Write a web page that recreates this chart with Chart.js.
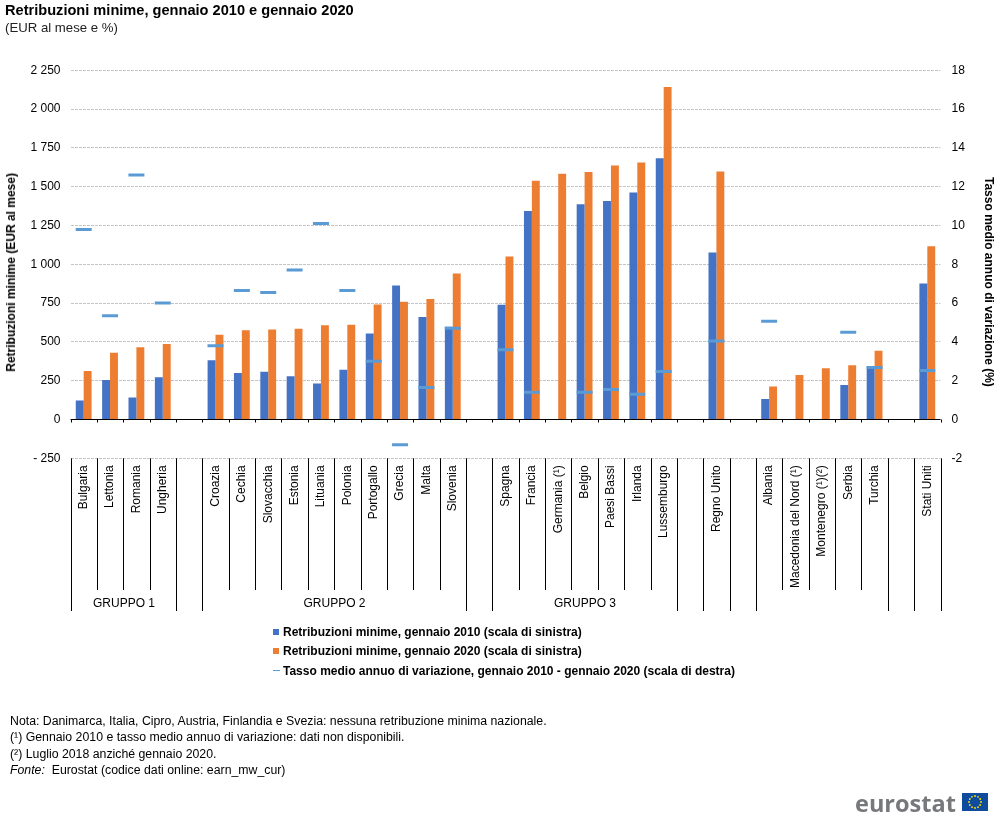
<!DOCTYPE html>
<html lang="it">
<head>
<meta charset="utf-8">
<title>Retribuzioni minime</title>
<script src="https://cdn.jsdelivr.net/npm/chart.js@4"></script>
<style>
  html, body { margin: 0; padding: 0; background: #fff; }
  body { width: 1005px; height: 829px; position: relative; overflow: hidden; font-family: "Liberation Sans", Arial, sans-serif; color: #000; }
  canvas { position: absolute; left: 0; top: 0; }
  .txt { position: absolute; white-space: nowrap; }
  #title { left: 5px; top: 2px; font-size: 14.6px; font-weight: bold; line-height: 17px; }
  #subtitle { left: 5px; top: 20px; font-size: 13.2px; line-height: 16px; color: #222; }
  .axisTitle { font-size: 12px; font-weight: bold; line-height: 14px; writing-mode: vertical-rl; }
  #leftTitle { left: 4px; top: 173px; transform: rotate(180deg); }
  #rightTitle { left: 982px; top: 177px; }
  .legendRow { left: 273px; font-size: 12px; font-weight: bold; line-height: 14px; }
  .legendRow i { position: absolute; left: 0; }
  .legendRow span { margin-left: 10px; }
  .note { left: 10px; font-size: 12.3px; line-height: 16px; }
  #logoText { left: 855px; top: 786px; font-family: "Open Sans", sans-serif; font-weight: 700; font-size: 23.5px; line-height: 34px; color: #76787b; }
  #flag { position: absolute; left: 962px; top: 793px; }
</style>
</head>
<body>
<canvas id="wageChart" width="1005" height="829"></canvas>
<div class="txt" id="title">Retribuzioni minime, gennaio 2010 e gennaio 2020</div>
<div class="txt" id="subtitle">(EUR al mese e %)</div>
<div class="txt axisTitle" id="leftTitle">Retribuzioni minime (EUR al mese)</div>
<div class="txt axisTitle" id="rightTitle">Tasso medio annuo di variazione (%)</div>
<div id="legend"></div>
<div class="txt note" style="top:713px">Nota: Danimarca, Italia, Cipro, Austria, Finlandia e Svezia: nessuna retribuzione minima nazionale.</div>
<div class="txt note" style="top:729px">(¹) Gennaio 2010 e tasso medio annuo di variazione: dati non disponibili.</div>
<div class="txt note" style="top:746px">(²) Luglio 2018 anziché gennaio 2020.</div>
<div class="txt note" style="top:762px"><em>Fonte:</em>&nbsp; Eurostat (codice dati online: earn_mw_cur)</div>
<div class="txt" id="logoText">eurostat</div>
<svg id="flag" width="26" height="18" viewBox="0 0 26 18">
  <rect width="26" height="18" fill="#0f4c9e"/>
  <g id="stars" fill="#ffe600"></g>
</svg>

<script>
const categories = ['Bulgaria', 'Lettonia', 'Romania', 'Ungheria', '',
  'Croazia', 'Cechia', 'Slovacchia', 'Estonia', 'Lituania', 'Polonia', 'Portogallo', 'Grecia', 'Malta', 'Slovenia', '',
  'Spagna', 'Francia', 'Germania (¹)', 'Belgio', 'Paesi Bassi', 'Irlanda', 'Lussemburgo', '',
  'Regno Unito', '',
  'Albania', 'Macedonia del Nord (¹)', 'Montenegro (¹)(²)', 'Serbia', 'Turchia', '',
  'Stati Uniti'];

const wages2010 = [123, 254, 142, 272, null,
  381, 299, 308, 278, 232, 321, 554, 863, 660, 597, null,
  739, 1344, null, 1387, 1408, 1462, 1683, null,
  1076, null,
  132, null, null, 223, 342, null,
  877];

const wages2020 = [312, 430, 466, 487, null,
  546, 575, 580, 584, 607, 611, 741, 758, 777, 941, null,
  1050, 1539, 1584, 1594, 1636, 1656, 2142, null,
  1598, null,
  213, 286, 331, 350, 443, null,
  1117];

const rateChange = [9.8, 5.35, 12.6, 6.0, null,
  3.8, 6.65, 6.55, 7.7, 10.1, 6.65, 3.0, -1.3, 1.65, 4.7, null,
  3.6, 1.4, null, 1.4, 1.55, 1.3, 2.47, null,
  4.05, null,
  5.07, null, null, 4.5, 2.68, null,
  2.52];

const leftTickLabels = ['- 250', '0', '250', '500', '750', '1 000', '1 250', '1 500', '1 750', '2 000', '2 250'];
const rightTickLabels = ['-2', '0', '2', '4', '6', '8', '10', '12', '14', '16', '18'];

const seriesNames = ['Retribuzioni minime, gennaio 2010 (scala di sinistra)',
  'Retribuzioni minime, gennaio 2020 (scala di sinistra)',
  'Tasso medio annuo di variazione, gennaio 2010 - gennaio 2020 (scala di destra)'];

const groups = [
  { name: 'GRUPPO 1', from: 0, to: 3 },
  { name: 'GRUPPO 2', from: 5, to: 14 },
  { name: 'GRUPPO 3', from: 16, to: 22 }
];
// category boundaries whose separator runs down past the group labels
const longSeparators = [0, 4, 5, 15, 16, 23, 24, 25, 26, 31, 32, 33];

const font = '"Liberation Sans", Arial, sans-serif';

// zero line, tick marks and the two-level category separators
const axisFurniture = {
  id: 'axisFurniture',
  afterDatasetsDraw(chart) {
    const { ctx, chartArea, scales } = chart;
    const zero = Math.floor(scales.y.getPixelForValue(0)) + 0.5;
    const step = scales.x.width / categories.length;
    const edge = (i) => Math.round(scales.x.left + i * step) + 0.5;

    ctx.save();
    ctx.strokeStyle = '#000';
    ctx.lineWidth = 1;
    ctx.beginPath();
    ctx.moveTo(chartArea.left, zero);
    ctx.lineTo(chartArea.right, zero);
    for (let i = 0; i <= categories.length; i++) {
      ctx.moveTo(edge(i), zero);
      ctx.lineTo(edge(i), zero + 3);
      ctx.moveTo(edge(i), chartArea.bottom);
      ctx.lineTo(edge(i), longSeparators.includes(i) ? 611 : 590);
    }
    ctx.stroke();

    ctx.fillStyle = '#000';
    ctx.font = '12px ' + font;
    ctx.textAlign = 'center';
    ctx.textBaseline = 'middle';
    groups.forEach((g) => {
      ctx.fillText(g.name, (edge(g.from) + edge(g.to + 1)) / 2, 604);
    });
    ctx.restore();
  }
};

const ctx = document.getElementById('wageChart').getContext('2d');

new Chart(ctx, {
  data: {
    labels: categories,
    datasets: [
      { type: 'line', label: seriesNames[2], data: rateChange, yAxisID: 'y1', order: 0,
        showLine: false, spanGaps: false, pointStyle: 'line', pointRadius: 8,
        pointBorderWidth: 3, pointBorderColor: '#5b9bd5', borderColor: '#5b9bd5', backgroundColor: '#5b9bd5' },
      { type: 'bar', label: seriesNames[0], data: wages2010, yAxisID: 'y', order: 1, backgroundColor: '#4472c4' },
      { type: 'bar', label: seriesNames[1], data: wages2020, yAxisID: 'y', order: 1, backgroundColor: '#ed7d31' }
    ]
  },
  options: {
    responsive: false,
    animation: false,
    events: [],
    datasets: { bar: { categoryPercentage: 0.6, barPercentage: 1 } },
    layout: { padding: { top: 70.3, left: 0, right: 0, bottom: 0 } },
    plugins: { legend: { display: false }, tooltip: { enabled: false } },
    scales: {
      x: {
        type: 'category',
        position: 'bottom',
        offset: true,
        grid: { display: false },
        border: { display: false },
        ticks: { autoSkip: false, minRotation: 90, maxRotation: 90, padding: -1, color: '#000', font: { family: font, size: 12 } },
        afterFit: (scale) => { scale.height = 370.7; }
      },
      y: {
        position: 'left',
        min: -250,
        max: 2250,
        grid: { color: '#c4c4c4', drawTicks: false, lineWidth: 1 },
        border: { display: false, dash: [3, 1] },
        ticks: { stepSize: 250, padding: 10, color: '#000', font: { family: font, size: 12 },
          callback: (value, i) => leftTickLabels[i] },
        afterFit: (scale) => { scale.width = 70.5; }
      },
      y1: {
        position: 'right',
        min: -2,
        max: 18,
        grid: { drawOnChartArea: false, drawTicks: false },
        border: { display: false },
        ticks: { stepSize: 2, padding: 11, color: '#000', font: { family: font, size: 12 },
          callback: (value, i) => rightTickLabels[i] },
        afterFit: (scale) => { scale.width = 64.5; }
      }
    }
  },
  plugins: [axisFurniture]
});

// legend rows, in the chart's series colours
const legendRows = [
  { name: seriesNames[0], top: 625, swatch: 'top:4px;width:6px;height:6px;background:#4472c4' },
  { name: seriesNames[1], top: 644, swatch: 'top:4px;width:6px;height:6px;background:#ed7d31' },
  { name: seriesNames[2], top: 664, swatch: 'top:6px;width:7px;height:1px;background:#5b9bd5' }
];
document.getElementById('legend').innerHTML = legendRows.map((r) =>
  `<div class="txt legendRow" style="top:${r.top}px"><i style="${r.swatch}"></i><span>${r.name}</span></div>`).join('');

// twelve stars of the flag
const stars = [];
for (let i = 0; i < 12; i++) {
  const a = i * Math.PI / 6;
  stars.push(`<circle cx="${13 + 6 * Math.cos(a)}" cy="${9 + 6 * Math.sin(a)}" r="0.9"/>`);
}
document.getElementById('stars').innerHTML = stars.join('');
</script>
</body>
</html>
